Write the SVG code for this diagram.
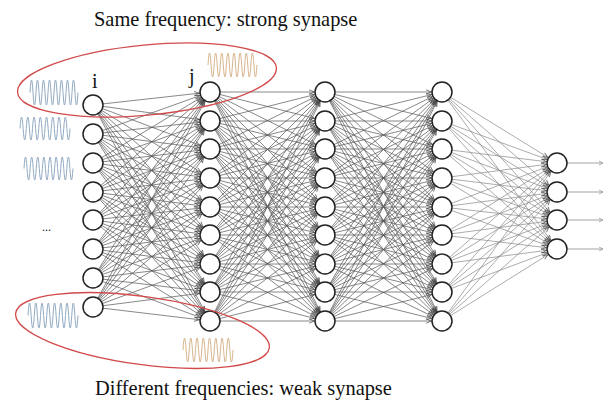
<svg xmlns="http://www.w3.org/2000/svg" width="611" height="402" viewBox="0 0 611 402">
<style>
.n{fill:#fff;stroke:#222;stroke-width:1.5}
.t{font-family:"Liberation Serif","Times New Roman",serif;fill:#111}
.wb{fill:none;stroke:#93abc3;stroke-width:1}
.wo{fill:none;stroke:#d8b68f;stroke-width:1}
.el{fill:none;stroke:#d24a4a;stroke-width:1.3}
</style>
<defs>
<marker id="ah" viewBox="0 0 22 10" refX="21.3" refY="5" markerWidth="22" markerHeight="10" markerUnits="userSpaceOnUse" orient="auto"><path d="M5.5,2.8 L10.5,5 L5.5,7.2" fill="none" stroke="#444" stroke-width="0.7"/></marker>
<marker id="oh" viewBox="0 0 10 10" refX="9" refY="5" markerWidth="10" markerHeight="10" markerUnits="userSpaceOnUse" orient="auto"><path d="M5,3 L9,5 L5,7" fill="none" stroke="#999" stroke-width="0.8"/></marker>
</defs>
<rect width="611" height="402" fill="#fff"/>
<text class="t" x="94" y="26" font-size="20.4">Same frequency: strong synapse</text>
<text class="t" x="95" y="395" font-size="20.4">Different frequencies: weak synapse</text>
<g id="connectors" stroke="#555" stroke-width="0.7" marker-end="url(#ah)">
<g id="c12">
<line x1="93" y1="105" x2="210" y2="92"/><line x1="93" y1="105" x2="210" y2="121"/><line x1="93" y1="105" x2="210" y2="149"/><line x1="93" y1="105" x2="210" y2="178"/><line x1="93" y1="105" x2="210" y2="207"/><line x1="93" y1="105" x2="210" y2="235"/><line x1="93" y1="105" x2="210" y2="264"/><line x1="93" y1="105" x2="210" y2="292"/><line x1="93" y1="105" x2="210" y2="321"/>
<line x1="93" y1="134" x2="210" y2="92"/><line x1="93" y1="134" x2="210" y2="121"/><line x1="93" y1="134" x2="210" y2="149"/><line x1="93" y1="134" x2="210" y2="178"/><line x1="93" y1="134" x2="210" y2="207"/><line x1="93" y1="134" x2="210" y2="235"/><line x1="93" y1="134" x2="210" y2="264"/><line x1="93" y1="134" x2="210" y2="292"/><line x1="93" y1="134" x2="210" y2="321"/>
<line x1="93" y1="163" x2="210" y2="92"/><line x1="93" y1="163" x2="210" y2="121"/><line x1="93" y1="163" x2="210" y2="149"/><line x1="93" y1="163" x2="210" y2="178"/><line x1="93" y1="163" x2="210" y2="207"/><line x1="93" y1="163" x2="210" y2="235"/><line x1="93" y1="163" x2="210" y2="264"/><line x1="93" y1="163" x2="210" y2="292"/><line x1="93" y1="163" x2="210" y2="321"/>
<line x1="93" y1="192" x2="210" y2="92"/><line x1="93" y1="192" x2="210" y2="121"/><line x1="93" y1="192" x2="210" y2="149"/><line x1="93" y1="192" x2="210" y2="178"/><line x1="93" y1="192" x2="210" y2="207"/><line x1="93" y1="192" x2="210" y2="235"/><line x1="93" y1="192" x2="210" y2="264"/><line x1="93" y1="192" x2="210" y2="292"/><line x1="93" y1="192" x2="210" y2="321"/>
<line x1="93" y1="220" x2="210" y2="92"/><line x1="93" y1="220" x2="210" y2="121"/><line x1="93" y1="220" x2="210" y2="149"/><line x1="93" y1="220" x2="210" y2="178"/><line x1="93" y1="220" x2="210" y2="207"/><line x1="93" y1="220" x2="210" y2="235"/><line x1="93" y1="220" x2="210" y2="264"/><line x1="93" y1="220" x2="210" y2="292"/><line x1="93" y1="220" x2="210" y2="321"/>
<line x1="93" y1="249" x2="210" y2="92"/><line x1="93" y1="249" x2="210" y2="121"/><line x1="93" y1="249" x2="210" y2="149"/><line x1="93" y1="249" x2="210" y2="178"/><line x1="93" y1="249" x2="210" y2="207"/><line x1="93" y1="249" x2="210" y2="235"/><line x1="93" y1="249" x2="210" y2="264"/><line x1="93" y1="249" x2="210" y2="292"/><line x1="93" y1="249" x2="210" y2="321"/>
<line x1="93" y1="278" x2="210" y2="92"/><line x1="93" y1="278" x2="210" y2="121"/><line x1="93" y1="278" x2="210" y2="149"/><line x1="93" y1="278" x2="210" y2="178"/><line x1="93" y1="278" x2="210" y2="207"/><line x1="93" y1="278" x2="210" y2="235"/><line x1="93" y1="278" x2="210" y2="264"/><line x1="93" y1="278" x2="210" y2="292"/><line x1="93" y1="278" x2="210" y2="321"/>
<line x1="93" y1="307" x2="210" y2="92"/><line x1="93" y1="307" x2="210" y2="121"/><line x1="93" y1="307" x2="210" y2="149"/><line x1="93" y1="307" x2="210" y2="178"/><line x1="93" y1="307" x2="210" y2="207"/><line x1="93" y1="307" x2="210" y2="235"/><line x1="93" y1="307" x2="210" y2="264"/><line x1="93" y1="307" x2="210" y2="292"/><line x1="93" y1="307" x2="210" y2="321"/>
</g>
<g id="c23">
<line x1="210" y1="92" x2="325" y2="92"/><line x1="210" y1="92" x2="325" y2="121"/><line x1="210" y1="92" x2="325" y2="149"/><line x1="210" y1="92" x2="325" y2="178"/><line x1="210" y1="92" x2="325" y2="207"/><line x1="210" y1="92" x2="325" y2="235"/><line x1="210" y1="92" x2="325" y2="264"/><line x1="210" y1="92" x2="325" y2="292"/><line x1="210" y1="92" x2="325" y2="321"/>
<line x1="210" y1="121" x2="325" y2="92"/><line x1="210" y1="121" x2="325" y2="121"/><line x1="210" y1="121" x2="325" y2="149"/><line x1="210" y1="121" x2="325" y2="178"/><line x1="210" y1="121" x2="325" y2="207"/><line x1="210" y1="121" x2="325" y2="235"/><line x1="210" y1="121" x2="325" y2="264"/><line x1="210" y1="121" x2="325" y2="292"/><line x1="210" y1="121" x2="325" y2="321"/>
<line x1="210" y1="149" x2="325" y2="92"/><line x1="210" y1="149" x2="325" y2="121"/><line x1="210" y1="149" x2="325" y2="149"/><line x1="210" y1="149" x2="325" y2="178"/><line x1="210" y1="149" x2="325" y2="207"/><line x1="210" y1="149" x2="325" y2="235"/><line x1="210" y1="149" x2="325" y2="264"/><line x1="210" y1="149" x2="325" y2="292"/><line x1="210" y1="149" x2="325" y2="321"/>
<line x1="210" y1="178" x2="325" y2="92"/><line x1="210" y1="178" x2="325" y2="121"/><line x1="210" y1="178" x2="325" y2="149"/><line x1="210" y1="178" x2="325" y2="178"/><line x1="210" y1="178" x2="325" y2="207"/><line x1="210" y1="178" x2="325" y2="235"/><line x1="210" y1="178" x2="325" y2="264"/><line x1="210" y1="178" x2="325" y2="292"/><line x1="210" y1="178" x2="325" y2="321"/>
<line x1="210" y1="207" x2="325" y2="92"/><line x1="210" y1="207" x2="325" y2="121"/><line x1="210" y1="207" x2="325" y2="149"/><line x1="210" y1="207" x2="325" y2="178"/><line x1="210" y1="207" x2="325" y2="207"/><line x1="210" y1="207" x2="325" y2="235"/><line x1="210" y1="207" x2="325" y2="264"/><line x1="210" y1="207" x2="325" y2="292"/><line x1="210" y1="207" x2="325" y2="321"/>
<line x1="210" y1="235" x2="325" y2="92"/><line x1="210" y1="235" x2="325" y2="121"/><line x1="210" y1="235" x2="325" y2="149"/><line x1="210" y1="235" x2="325" y2="178"/><line x1="210" y1="235" x2="325" y2="207"/><line x1="210" y1="235" x2="325" y2="235"/><line x1="210" y1="235" x2="325" y2="264"/><line x1="210" y1="235" x2="325" y2="292"/><line x1="210" y1="235" x2="325" y2="321"/>
<line x1="210" y1="264" x2="325" y2="92"/><line x1="210" y1="264" x2="325" y2="121"/><line x1="210" y1="264" x2="325" y2="149"/><line x1="210" y1="264" x2="325" y2="178"/><line x1="210" y1="264" x2="325" y2="207"/><line x1="210" y1="264" x2="325" y2="235"/><line x1="210" y1="264" x2="325" y2="264"/><line x1="210" y1="264" x2="325" y2="292"/><line x1="210" y1="264" x2="325" y2="321"/>
<line x1="210" y1="292" x2="325" y2="92"/><line x1="210" y1="292" x2="325" y2="121"/><line x1="210" y1="292" x2="325" y2="149"/><line x1="210" y1="292" x2="325" y2="178"/><line x1="210" y1="292" x2="325" y2="207"/><line x1="210" y1="292" x2="325" y2="235"/><line x1="210" y1="292" x2="325" y2="264"/><line x1="210" y1="292" x2="325" y2="292"/><line x1="210" y1="292" x2="325" y2="321"/>
<line x1="210" y1="321" x2="325" y2="92"/><line x1="210" y1="321" x2="325" y2="121"/><line x1="210" y1="321" x2="325" y2="149"/><line x1="210" y1="321" x2="325" y2="178"/><line x1="210" y1="321" x2="325" y2="207"/><line x1="210" y1="321" x2="325" y2="235"/><line x1="210" y1="321" x2="325" y2="264"/><line x1="210" y1="321" x2="325" y2="292"/><line x1="210" y1="321" x2="325" y2="321"/>
</g>
<g id="c34">
<line x1="325" y1="92" x2="442" y2="92"/><line x1="325" y1="92" x2="442" y2="121"/><line x1="325" y1="92" x2="442" y2="149"/><line x1="325" y1="92" x2="442" y2="178"/><line x1="325" y1="92" x2="442" y2="207"/><line x1="325" y1="92" x2="442" y2="235"/><line x1="325" y1="92" x2="442" y2="264"/><line x1="325" y1="92" x2="442" y2="292"/><line x1="325" y1="92" x2="442" y2="321"/>
<line x1="325" y1="121" x2="442" y2="92"/><line x1="325" y1="121" x2="442" y2="121"/><line x1="325" y1="121" x2="442" y2="149"/><line x1="325" y1="121" x2="442" y2="178"/><line x1="325" y1="121" x2="442" y2="207"/><line x1="325" y1="121" x2="442" y2="235"/><line x1="325" y1="121" x2="442" y2="264"/><line x1="325" y1="121" x2="442" y2="292"/><line x1="325" y1="121" x2="442" y2="321"/>
<line x1="325" y1="149" x2="442" y2="92"/><line x1="325" y1="149" x2="442" y2="121"/><line x1="325" y1="149" x2="442" y2="149"/><line x1="325" y1="149" x2="442" y2="178"/><line x1="325" y1="149" x2="442" y2="207"/><line x1="325" y1="149" x2="442" y2="235"/><line x1="325" y1="149" x2="442" y2="264"/><line x1="325" y1="149" x2="442" y2="292"/><line x1="325" y1="149" x2="442" y2="321"/>
<line x1="325" y1="178" x2="442" y2="92"/><line x1="325" y1="178" x2="442" y2="121"/><line x1="325" y1="178" x2="442" y2="149"/><line x1="325" y1="178" x2="442" y2="178"/><line x1="325" y1="178" x2="442" y2="207"/><line x1="325" y1="178" x2="442" y2="235"/><line x1="325" y1="178" x2="442" y2="264"/><line x1="325" y1="178" x2="442" y2="292"/><line x1="325" y1="178" x2="442" y2="321"/>
<line x1="325" y1="207" x2="442" y2="92"/><line x1="325" y1="207" x2="442" y2="121"/><line x1="325" y1="207" x2="442" y2="149"/><line x1="325" y1="207" x2="442" y2="178"/><line x1="325" y1="207" x2="442" y2="207"/><line x1="325" y1="207" x2="442" y2="235"/><line x1="325" y1="207" x2="442" y2="264"/><line x1="325" y1="207" x2="442" y2="292"/><line x1="325" y1="207" x2="442" y2="321"/>
<line x1="325" y1="235" x2="442" y2="92"/><line x1="325" y1="235" x2="442" y2="121"/><line x1="325" y1="235" x2="442" y2="149"/><line x1="325" y1="235" x2="442" y2="178"/><line x1="325" y1="235" x2="442" y2="207"/><line x1="325" y1="235" x2="442" y2="235"/><line x1="325" y1="235" x2="442" y2="264"/><line x1="325" y1="235" x2="442" y2="292"/><line x1="325" y1="235" x2="442" y2="321"/>
<line x1="325" y1="264" x2="442" y2="92"/><line x1="325" y1="264" x2="442" y2="121"/><line x1="325" y1="264" x2="442" y2="149"/><line x1="325" y1="264" x2="442" y2="178"/><line x1="325" y1="264" x2="442" y2="207"/><line x1="325" y1="264" x2="442" y2="235"/><line x1="325" y1="264" x2="442" y2="264"/><line x1="325" y1="264" x2="442" y2="292"/><line x1="325" y1="264" x2="442" y2="321"/>
<line x1="325" y1="292" x2="442" y2="92"/><line x1="325" y1="292" x2="442" y2="121"/><line x1="325" y1="292" x2="442" y2="149"/><line x1="325" y1="292" x2="442" y2="178"/><line x1="325" y1="292" x2="442" y2="207"/><line x1="325" y1="292" x2="442" y2="235"/><line x1="325" y1="292" x2="442" y2="264"/><line x1="325" y1="292" x2="442" y2="292"/><line x1="325" y1="292" x2="442" y2="321"/>
<line x1="325" y1="321" x2="442" y2="92"/><line x1="325" y1="321" x2="442" y2="121"/><line x1="325" y1="321" x2="442" y2="149"/><line x1="325" y1="321" x2="442" y2="178"/><line x1="325" y1="321" x2="442" y2="207"/><line x1="325" y1="321" x2="442" y2="235"/><line x1="325" y1="321" x2="442" y2="264"/><line x1="325" y1="321" x2="442" y2="292"/><line x1="325" y1="321" x2="442" y2="321"/>
</g>
<g id="c45" stroke="#888">
<line x1="442" y1="92" x2="557" y2="163"/><line x1="442" y1="92" x2="557" y2="192"/><line x1="442" y1="92" x2="557" y2="220"/><line x1="442" y1="92" x2="557" y2="249"/>
<line x1="442" y1="121" x2="557" y2="163"/><line x1="442" y1="121" x2="557" y2="192"/><line x1="442" y1="121" x2="557" y2="220"/><line x1="442" y1="121" x2="557" y2="249"/>
<line x1="442" y1="149" x2="557" y2="163"/><line x1="442" y1="149" x2="557" y2="192"/><line x1="442" y1="149" x2="557" y2="220"/><line x1="442" y1="149" x2="557" y2="249"/>
<line x1="442" y1="178" x2="557" y2="163"/><line x1="442" y1="178" x2="557" y2="192"/><line x1="442" y1="178" x2="557" y2="220"/><line x1="442" y1="178" x2="557" y2="249"/>
<line x1="442" y1="207" x2="557" y2="163"/><line x1="442" y1="207" x2="557" y2="192"/><line x1="442" y1="207" x2="557" y2="220"/><line x1="442" y1="207" x2="557" y2="249"/>
<line x1="442" y1="235" x2="557" y2="163"/><line x1="442" y1="235" x2="557" y2="192"/><line x1="442" y1="235" x2="557" y2="220"/><line x1="442" y1="235" x2="557" y2="249"/>
<line x1="442" y1="264" x2="557" y2="163"/><line x1="442" y1="264" x2="557" y2="192"/><line x1="442" y1="264" x2="557" y2="220"/><line x1="442" y1="264" x2="557" y2="249"/>
<line x1="442" y1="292" x2="557" y2="163"/><line x1="442" y1="292" x2="557" y2="192"/><line x1="442" y1="292" x2="557" y2="220"/><line x1="442" y1="292" x2="557" y2="249"/>
<line x1="442" y1="321" x2="557" y2="163"/><line x1="442" y1="321" x2="557" y2="192"/><line x1="442" y1="321" x2="557" y2="220"/><line x1="442" y1="321" x2="557" y2="249"/>
</g>
<g id="outputs" stroke="#999" stroke-width="0.9" marker-end="url(#oh)">
<line x1="567" y1="163" x2="603" y2="163"/><line x1="567" y1="192" x2="603" y2="192"/><line x1="567" y1="220" x2="603" y2="220"/><line x1="567" y1="249" x2="603" y2="249"/>
</g>
</g>
<g id="layer1">
<g id="n1_1"><circle class="n" cx="93" cy="105" r="10"/><text class="t" x="92" y="88" font-size="20">i</text></g>
<g id="n1_2"><circle class="n" cx="93" cy="134" r="10"/></g>
<g id="n1_3"><circle class="n" cx="93" cy="163" r="10"/></g>
<g id="n1_4"><circle class="n" cx="93" cy="192" r="10"/></g>
<g id="n1_5"><circle class="n" cx="93" cy="220" r="10"/></g>
<g id="n1_6"><circle class="n" cx="93" cy="249" r="10"/></g>
<g id="n1_7"><circle class="n" cx="93" cy="278" r="10"/></g>
<g id="n1_8"><circle class="n" cx="93" cy="307" r="10"/></g>
</g>
<g id="layer2">
<g id="n2_1"><circle class="n" cx="210" cy="92" r="10"/><text class="t" x="189" y="83" font-size="20">j</text></g>
<g id="n2_2"><circle class="n" cx="210" cy="121" r="10"/></g>
<g id="n2_3"><circle class="n" cx="210" cy="149" r="10"/></g>
<g id="n2_4"><circle class="n" cx="210" cy="178" r="10"/></g>
<g id="n2_5"><circle class="n" cx="210" cy="207" r="10"/></g>
<g id="n2_6"><circle class="n" cx="210" cy="235" r="10"/></g>
<g id="n2_7"><circle class="n" cx="210" cy="264" r="10"/></g>
<g id="n2_8"><circle class="n" cx="210" cy="292" r="10"/></g>
<g id="n2_9"><circle class="n" cx="210" cy="321" r="10"/></g>
</g>
<g id="layer3">
<g id="n3_1"><circle class="n" cx="325" cy="92" r="10"/></g>
<g id="n3_2"><circle class="n" cx="325" cy="121" r="10"/></g>
<g id="n3_3"><circle class="n" cx="325" cy="149" r="10"/></g>
<g id="n3_4"><circle class="n" cx="325" cy="178" r="10"/></g>
<g id="n3_5"><circle class="n" cx="325" cy="207" r="10"/></g>
<g id="n3_6"><circle class="n" cx="325" cy="235" r="10"/></g>
<g id="n3_7"><circle class="n" cx="325" cy="264" r="10"/></g>
<g id="n3_8"><circle class="n" cx="325" cy="292" r="10"/></g>
<g id="n3_9"><circle class="n" cx="325" cy="321" r="10"/></g>
</g>
<g id="layer4">
<g id="n4_1"><circle class="n" cx="442" cy="92" r="10"/></g>
<g id="n4_2"><circle class="n" cx="442" cy="121" r="10"/></g>
<g id="n4_3"><circle class="n" cx="442" cy="149" r="10"/></g>
<g id="n4_4"><circle class="n" cx="442" cy="178" r="10"/></g>
<g id="n4_5"><circle class="n" cx="442" cy="207" r="10"/></g>
<g id="n4_6"><circle class="n" cx="442" cy="235" r="10"/></g>
<g id="n4_7"><circle class="n" cx="442" cy="264" r="10"/></g>
<g id="n4_8"><circle class="n" cx="442" cy="292" r="10"/></g>
<g id="n4_9"><circle class="n" cx="442" cy="321" r="10"/></g>
</g>
<g id="layer5">
<g id="n5_1"><circle class="n" cx="557" cy="163" r="10"/></g>
<g id="n5_2"><circle class="n" cx="557" cy="192" r="10"/></g>
<g id="n5_3"><circle class="n" cx="557" cy="220" r="10"/></g>
<g id="n5_4"><circle class="n" cx="557" cy="249" r="10"/></g>
</g>
<g id="signals">
<path class="wb" d="M30,92.5q1.5,-25 3,0t3,0t3,0t3,0t3,0t3,0t3,0t3,0t3,0t3,0t3,0t3,0t3,0t3,0t3,0t3,0"/>
<path class="wb" d="M20,128.5q1.5625,-23 3.125,0t3.125,0t3.125,0t3.125,0t3.125,0t3.125,0t3.125,0t3.125,0t3.125,0t3.125,0t3.125,0t3.125,0t3.125,0t3.125,0t3.125,0t3.125,0"/>
<path class="wb" d="M24,168.5q1.53,-23 3.06,0t3.06,0t3.06,0t3.06,0t3.06,0t3.06,0t3.06,0t3.06,0t3.06,0t3.06,0t3.06,0t3.06,0t3.06,0t3.06,0t3.06,0t3.06,0"/>
<path class="wb" d="M28,315.5q1.5625,-25 3.125,0t3.125,0t3.125,0t3.125,0t3.125,0t3.125,0t3.125,0t3.125,0t3.125,0t3.125,0t3.125,0t3.125,0t3.125,0t3.125,0t3.125,0t3.125,0"/>
<path class="wo" d="M208,65q1.53,-24 3.06,0t3.06,0t3.06,0t3.06,0t3.06,0t3.06,0t3.06,0t3.06,0t3.06,0t3.06,0t3.06,0t3.06,0t3.06,0t3.06,0t3.06,0t3.06,0"/>
<path class="wo" d="M183,350q1.5625,-24 3.125,0t3.125,0t3.125,0t3.125,0t3.125,0t3.125,0t3.125,0t3.125,0t3.125,0t3.125,0t3.125,0t3.125,0t3.125,0t3.125,0t3.125,0t3.125,0"/>
<text class="t" x="42" y="231" font-size="12">...</text>
</g>
<g id="groups">
<ellipse class="el" cx="147" cy="80" rx="130" ry="35" transform="rotate(-5.5 147 80)"/>
<ellipse class="el" cx="142.5" cy="330.5" rx="128" ry="34" transform="rotate(7.8 142.5 330.5)"/>
</g>
</svg>
